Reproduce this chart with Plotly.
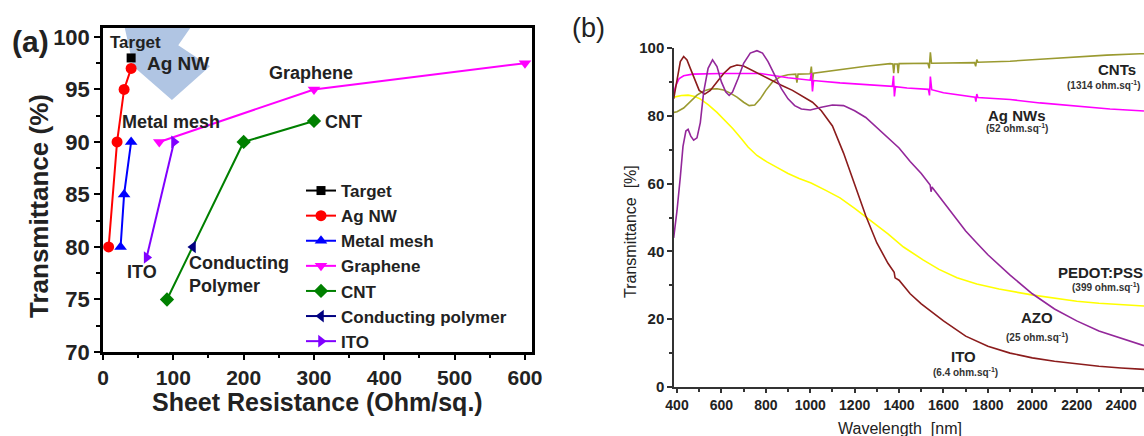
import plotly.graph_objects as go

# ---------------- Panel (a) data ----------------
target_x = [40]
target_y = [98]
agnw_x = [8, 20, 30, 40]
agnw_y = [80, 90, 95, 97]
mesh_x = [25, 30, 40]
mesh_y = [80, 85, 90]
graphene_x = [80, 300, 600]
graphene_y = [90, 95, 97.5]
cnt_x = [91, 200, 300]
cnt_y = [75, 90, 92]
cpoly_x = [128]
cpoly_y = [80]
ito_x = [62, 101]
ito_y = [79, 90]

# ---------------- Panel (b) data ----------------
cnts_wl = [385, 400, 430, 460, 490, 520, 550, 580, 610, 640, 670, 700, 725, 750, 775, 800, 830, 865,
           900, 935, 940, 945, 1000, 1005, 1010, 1015, 1060, 1134, 1250, 1360, 1372, 1376, 1380, 1392,
           1396, 1400, 1500, 1530, 1536, 1541, 1546, 1733, 1740, 1745, 1750, 1755, 1900, 2035, 2200,
           2335, 2485, 2503]
cnts_T = [81, 81.2, 82.3, 84.3, 86.1, 87.3, 87.9, 88, 87.6, 86.7, 85.5, 84, 83, 83.2, 85, 87.5, 90, 91.5,
          92.1, 92.3, 89.8, 92.3, 92.4, 94.5, 90.3, 92.6, 93, 93.6, 94.6, 95.4, 95.3, 92.6, 95.3, 95.3,
          92.6, 95.4, 95.5, 95.5, 94.0, 98.7, 95.5, 95.7, 95.7, 94.6, 96.6, 95.8, 96.1, 96.7, 97.4,
          97.9, 98.3, 98.3]

agnws_wl = [385, 395, 410, 430, 470, 600, 775, 850, 900, 1000, 1005, 1010, 1015, 1134, 1300, 1370,
            1375, 1379, 1384, 1436, 1532, 1537, 1541, 1547, 1600, 1733, 1742, 1746, 1750, 1755, 1900,
            2035, 2200, 2350, 2485, 2503]
agnws_T = [86.5, 89, 91, 91.8, 92.3, 92.5, 92.5, 91.8, 91.2, 90.5, 92.6, 87.2, 90.4, 89.7, 89, 88.7,
           91.8, 85.7, 88.6, 88.2, 87.8, 86.0, 91.6, 87.7, 86.8, 85.6, 85.5, 84.2, 86.4, 85.4, 84.8,
           83.8, 82.8, 82, 81.5, 81.4]

azo_wl = [385, 400, 415, 427, 440, 450, 462, 475, 490, 505, 520, 540, 560, 580, 600, 620, 635, 650,
          675, 700, 730, 760, 785, 810, 840, 870, 900, 930, 960, 1000, 1050, 1100, 1150, 1200, 1250,
          1300, 1350, 1400, 1450, 1500, 1540, 1544, 1548, 1600, 1650, 1700, 1750, 1800, 1900, 2000,
          2100, 2200, 2300, 2400, 2503]
azo_T = [44, 52, 62, 71, 75.5, 76, 74, 72.8, 73.5, 78, 87, 94, 96.5, 94.5, 90, 87, 86, 87,
         91, 95.5, 98.5, 99.2, 98.5, 96, 92, 88, 85, 83, 82, 81.7, 82.5, 83.2, 83, 81.5, 79.5,
         76.5, 73.5, 70.5, 66.5, 63, 59.6, 57.6, 59.0, 54.5, 50, 46, 42.5, 39, 33, 27.5,
         23, 19.5, 16.5, 14.3, 12.2]

ito_wl = [385, 400, 415, 430, 445, 460, 480, 500, 525, 550, 580, 610, 640, 670, 700, 740, 780, 820,
          870, 920, 970, 1010, 1050, 1100, 1150, 1200, 1250, 1300, 1350, 1378, 1382, 1400, 1450, 1500,
          1550, 1600, 1700, 1800, 1900, 2000, 2100, 2200, 2300, 2400, 2503]
ito_T = [85, 91, 96, 97.5, 96.5, 94, 90.5, 87.5, 86.4, 87.5, 90, 92.5, 94.3, 95, 94.7, 93.3, 92, 90.5,
         89, 87.5, 85.5, 84, 81.5, 77, 69, 60, 50.5, 42.5, 36.5, 33.8, 32.2, 31.5, 27.5, 24.5,
         22, 19.5, 15, 12, 10, 8.6, 7.6, 6.8, 6.1, 5.6, 5.2]

pedot_wl = [385, 420, 450, 480, 504, 540, 580, 620, 652, 690, 720, 760, 805, 850, 900, 950, 1004,
            1070, 1134, 1200, 1256, 1350, 1420, 1508, 1580, 1661, 1750, 1850, 2004, 2100, 2200, 2300,
            2400, 2503]
pedot_T = [85.5, 86, 86.1, 85.7, 85, 83.3, 81, 78.3, 76.2, 73.2, 70.8, 68.3, 66.4, 64.8, 63, 61.5, 60.2,
           58, 55.8, 52.7, 49.9, 45.2, 41.3, 37.5, 34.7, 32.2, 30.4, 28.9, 27.1, 26.2, 25.3, 24.7,
           24.2, 23.9]

FONT = "Arial, Liberation Sans, sans-serif"
TXT = "#222222"

fig = go.Figure()

series_a = [
    ("Target", target_x, target_y, "black", "square", 9),
    ("Ag NW", agnw_x, agnw_y, "#ff0000", "circle", 11),
    ("Metal mesh", mesh_x, mesh_y, "#0000ff", "triangle-up", 11),
    ("Graphene", graphene_x, graphene_y, "#ff00ff", "triangle-down", 11),
    ("CNT", cnt_x, cnt_y, "#008000", "diamond", 11),
    ("Conducting polymer", cpoly_x, cpoly_y, "#000080", "triangle-left", 11),
    ("ITO", ito_x, ito_y, "#8000ff", "triangle-right", 11),
]
for name, xs, ys, col, sym, sz in series_a:
    fig.add_trace(go.Scatter(x=xs, y=ys, name=name, mode="lines+markers",
                             line=dict(color=col, width=2),
                             marker=dict(symbol=sym, size=sz, color=col),
                             xaxis="x", yaxis="y"))

series_b = [
    (pedot_wl, pedot_T, "#ffff00"),
    (cnts_wl, cnts_T, "#9a9a30"),
    (agnws_wl, agnws_T, "#ff00ff"),
    (ito_wl, ito_T, "#8b1c1c"),
    (azo_wl, azo_T, "#93279a"),
]
for xs, ys, col in series_b:
    fig.add_trace(go.Scatter(x=xs, y=ys, mode="lines", showlegend=False,
                             line=dict(color=col, width=1.6),
                             xaxis="x2", yaxis="y2"))

# translucent blue arrow-like highlight in panel (a)
fig.add_shape(type="path", xref="x", yref="y", layer="below",
              path="M 31 100.85 L 124 100.85 L 107 99.2 L 152 97.2 L 98 94 L 43 97.2 Z",
              fillcolor="rgba(150,178,218,0.75)", line=dict(width=0))

ann = []
def a_text(x, y, t, size=18, xref="x", yref="y", weight="bold", color=TXT, **kw):
    d = dict(x=x, y=y, text=t, xref=xref, yref=yref, showarrow=False,
             xanchor="center", yanchor="middle",
             font=dict(family=FONT, size=size, color=color, weight=weight))
    d.update(kw)
    ann.append(d)

a_text(45.5, 99.5, "Target", size=17)
a_text(106, 97.5, "Ag NW", size=19)
a_text(96.7, 91.9, "Metal mesh", size=18)
a_text(296, 96.6, "Graphene", size=18)
a_text(313, 91.9, "CNT", size=18, xanchor="left")
a_text(55, 77.6, "ITO", size=18)
a_text(119.4, 77.4, "Conducting<br>Polymer", size=18, xanchor="left", align="left")
a_text(31 / 1144, 1 - 41 / 436, "(a)", size=30, xref="paper", yref="paper")
a_text(39 / 1144, 1 - 206 / 436, "Transmittance (%)", size=26, xref="paper", yref="paper",
       textangle=-90)
a_text(317 / 1144, 1 - 402 / 436, "Sheet Resistance (Ohm/sq.)", size=25, xref="paper",
       yref="paper")

a_text(2382, 93.8, "CNTs", size=15, xref="x2", yref="y2")
a_text(2323, 89.1, "(1314 ohm.sq<sup>-1</sup>)", size=10, xref="x2", yref="y2", color="#333")
a_text(1931, 80.2, "Ag NWs", size=15, xref="x2", yref="y2")
a_text(1931, 76.4, "(52 ohm.sq<sup>-1</sup>)", size=10, xref="x2", yref="y2", color="#333")
a_text(2305, 33.9, "PEDOT:PSS", size=15, xref="x2", yref="y2")
a_text(2332, 29.5, "(399 ohm.sq<sup>-1</sup>)", size=10, xref="x2", yref="y2", color="#333")
a_text(2022, 20.6, "AZO", size=15, xref="x2", yref="y2")
a_text(2022, 14.7, "(25 ohm.sq<sup>-1</sup>)", size=10, xref="x2", yref="y2", color="#333")
a_text(1688, 9.1, "ITO", size=15, xref="x2", yref="y2")
a_text(1697, 4.4, "(6.4 ohm.sq<sup>-1</sup>)", size=10, xref="x2", yref="y2", color="#333")
a_text(588 / 1144, 1 - 28 / 436, "(b)", size=27, xref="paper", yref="paper", weight="normal")
a_text(630 / 1144, 1 - 232 / 436, "Transmittance  [%]", size=16, xref="paper", yref="paper",
       textangle=-90, weight="normal")
a_text(900 / 1144, 1 - 428 / 436, "Wavelength  [nm]", size=16, xref="paper", yref="paper",
       weight="normal")

def bfont(size):
    return dict(family=FONT, size=size, color=TXT, weight="bold")

fig.update_layout(
    width=1144, height=436,
    margin=dict(l=0, r=0, t=0, b=0, pad=0, autoexpand=False),
    paper_bgcolor="white", plot_bgcolor="white",
    font=dict(family=FONT, color=TXT),
    annotations=ann,
    legend=dict(x=301 / 1144, y=1 - 173 / 436, xanchor="left", yanchor="top",
                font=bfont(17),
                bgcolor="rgba(0,0,0,0)", borderwidth=0, tracegroupgap=0,
                itemwidth=30),
    xaxis=dict(domain=[103 / 1144, 532 / 1144], range=[0, 610], anchor="y", automargin=False,
               showline=True, linecolor="black", linewidth=2.5, mirror=True,
               ticks="outside", ticklen=5, tickwidth=2, tickcolor="black",
               tick0=0, dtick=100, showgrid=False, zeroline=False,
               minor=dict(dtick=50, ticks="outside", ticklen=3, tickwidth=2, tickcolor="black"),
               tickfont=bfont(21)),
    yaxis=dict(domain=[1 - 352 / 436, 1 - 28 / 436], range=[70, 100.85], anchor="x", automargin=False,
               showline=True, linecolor="black", linewidth=2.5, mirror=True,
               ticks="outside", ticklen=6, tickwidth=2, tickcolor="black",
               tick0=70, dtick=5, showgrid=False, zeroline=False,
               minor=dict(dtick=2.5, ticks="outside", ticklen=4, tickwidth=2, tickcolor="black"),
               tickfont=bfont(22)),
    xaxis2=dict(domain=[674 / 1144, 1.0], range=[386.5, 2503], anchor="y2", automargin=False,
                showline=True, linecolor="#333333", linewidth=1.5, mirror=False,
                ticks="outside", ticklen=4, tickwidth=1.5, tickcolor="#333333",
                tick0=400, dtick=200, showgrid=False, zeroline=False,
                minor=dict(dtick=100, ticks="outside", ticklen=3, tickwidth=1.5, tickcolor="#333333"),
                tickfont=bfont(14)),
    yaxis2=dict(domain=[1 - 387 / 436, 1 - 48 / 436], range=[0, 100], anchor="x2", automargin=False,
                showline=True, linecolor="#333333", linewidth=1.5, mirror=False,
                ticks="outside", ticklen=5, tickwidth=1.5, tickcolor="#333333",
                tick0=0, dtick=20, showgrid=False, zeroline=False,
                minor=dict(dtick=10, ticks="outside", ticklen=3, tickwidth=1.5, tickcolor="#333333"),
                tickfont=bfont(15)),
)

fig.write_html("out.html")
